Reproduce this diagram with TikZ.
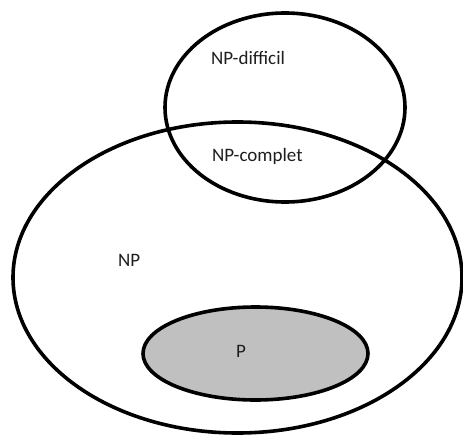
\documentclass[tikz,border=0pt]{standalone}
\usepackage{fontspec}
\setmainfont{Carlito}
\usetikzlibrary{shapes.geometric}
\definecolor{setfill}{RGB}{192,192,192}
\definecolor{labeltext}{RGB}{30,30,30}
\begin{document}
\begin{tikzpicture}[x=1pt,y=-1pt,
  setline/.style={draw=black, line width=3.6pt, ellipse, inner sep=0pt, outer sep=0pt},
  setlabel/.style={anchor=base west, inner sep=0pt, text=labeltext, font=\fontsize{19}{22}\selectfont}]
  \useasboundingbox (0,0) rectangle (463,436);
  % NP
  \node[setline, minimum width=449pt, minimum height=311pt] (np) at (237.5,277.5) {};
  % P
  \node[setline, fill=setfill, minimum width=225pt, minimum height=93pt] (p) at (255.5,353.5) {};
  % NP-hard
  \node[setline, minimum width=240pt, minimum height=189pt] (nph) at (285,107.5) {};
  % labels
  \node[setlabel] (lnph) at (211,64) {NP-difficil};
  \node[setlabel] (lnpc) at (212,161.5) {NP-complet};
  \node[setlabel] (lnp) at (118,266) {NP};
  \node[setlabel] (lp) at (236,357) {P};
\end{tikzpicture}
\end{document}
